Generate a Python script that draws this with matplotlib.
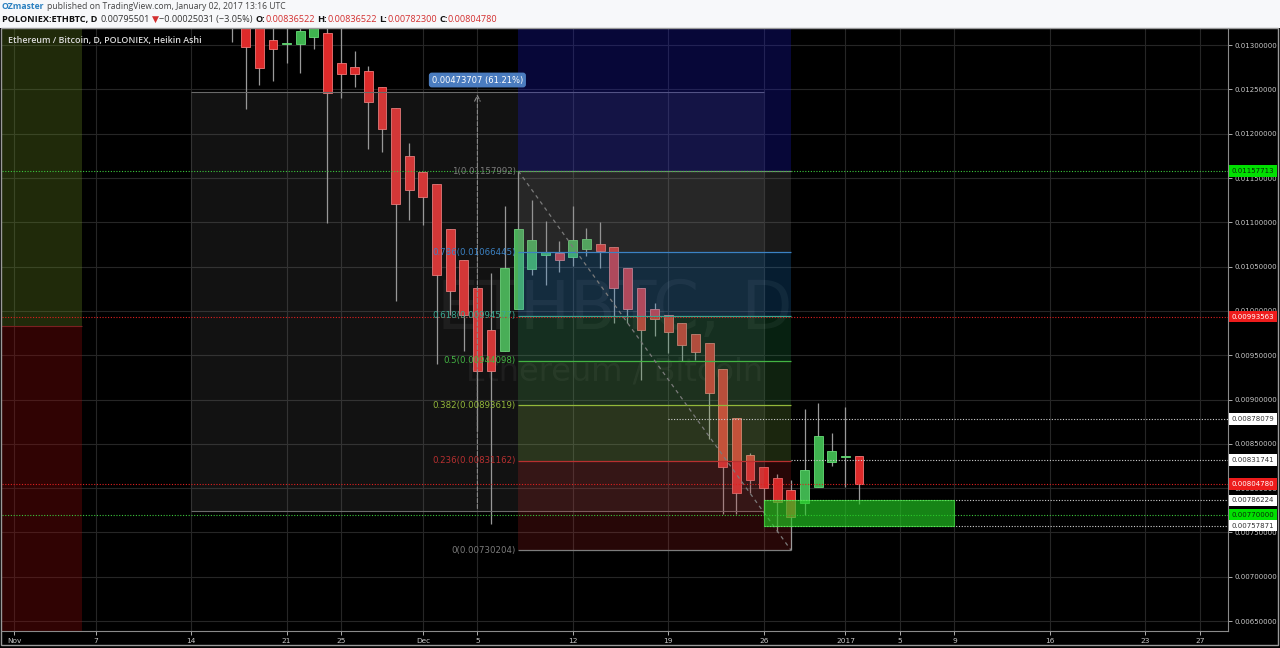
import numpy as np
import pandas as pd
import matplotlib
matplotlib.use("Agg")
import matplotlib.pyplot as plt
import matplotlib.dates as mdates
from matplotlib.patches import Rectangle

W, H = 1280, 648

# Heikin Ashi candles, POLONIEX:ETHBTC, daily
dates = pd.date_range("2016-11-17", "2017-01-02", freq="D")
opens = [0.01345, 0.01340, 0.01325, 0.01306, 0.01301, 0.01301, 0.01309, 0.01314, 0.01280, 0.01275,
         0.01271, 0.01253, 0.01229, 0.01175, 0.01157, 0.01143, 0.01093, 0.01058, 0.01026, 0.00978,
         0.00955, 0.01002, 0.01047, 0.01063, 0.01065, 0.01061, 0.01070, 0.01076, 0.01072, 0.01049,
         0.01026, 0.01002, 0.00996, 0.00986, 0.00974, 0.00964, 0.00935, 0.00879, 0.00838, 0.00824,
         0.00812, 0.00798, 0.00783, 0.00801, 0.00830, 0.00835, 0.00836522]
highs = [0.01370, 0.01360, 0.01335, 0.01322, 0.01325, 0.01330, 0.01340, 0.01335, 0.01325, 0.01293,
         0.01277, 0.01253, 0.01229, 0.01190, 0.01157, 0.01143, 0.01093, 0.01058, 0.01026, 0.01043,
         0.01119, 0.01158, 0.01125, 0.01102, 0.01079, 0.01118, 0.01094, 0.01100, 0.01072, 0.01049,
         0.01026, 0.01009, 0.00996, 0.00986, 0.00974, 0.00964, 0.00935, 0.00879, 0.00840, 0.00824,
         0.00816, 0.00809, 0.00889, 0.00896, 0.00862, 0.00892, 0.00836522]
lows = [0.01304, 0.01228, 0.01255, 0.01260, 0.01280, 0.01269, 0.01296, 0.01099, 0.01240, 0.01253,
        0.01183, 0.01180, 0.01011, 0.01103, 0.01097, 0.00940, 0.00996, 0.00955, 0.00864, 0.00760,
        0.00955, 0.01002, 0.01041, 0.01029, 0.01044, 0.01051, 0.01062, 0.01049, 0.00986, 0.00986,
        0.00922, 0.00972, 0.00953, 0.00943, 0.00945, 0.00855, 0.00771, 0.00771, 0.00795, 0.00770,
        0.00751, 0.00730, 0.00770, 0.00801, 0.00825, 0.00801, 0.00782300]
closes = [0.01330, 0.01298, 0.01274, 0.01296, 0.01302, 0.01316, 0.01325, 0.01246, 0.01268, 0.01267,
          0.01236, 0.01205, 0.01121, 0.01136, 0.01129, 0.01041, 0.01023, 0.00995, 0.00932, 0.00932,
          0.01049, 0.01092, 0.01080, 0.01067, 0.01058, 0.01080, 0.01081, 0.01068, 0.01026, 0.01002,
          0.00979, 0.00991, 0.00976, 0.00962, 0.00954, 0.00907, 0.00824, 0.00795, 0.00809, 0.00800,
          0.00784, 0.00768, 0.00820, 0.00859, 0.00842, 0.00836, 0.00804780]

fib_ratios = [1, 0.786, 0.618, 0.5, 0.382, 0.236, 0]
fib_prices = [0.01157992, 0.01066445, 0.00994577, 0.00944098, 0.00893619, 0.00831162, 0.00730204]
fib_colors = ["#7c7c7c", "#3b82c4", "#3aa890", "#43b443", "#93b83a", "#b83030", "#7c7c7c"]
fib_fills = ["#808080", "#2196f3", "#26a65a", "#4caf50", "#8bc34a", "#c62828"]

price_ticks = [0.0065, 0.0070, 0.0075, 0.0080, 0.0085, 0.0090, 0.0095, 0.0100,
               0.0105, 0.0110, 0.0115, 0.0120, 0.0125, 0.0130]
tick_dates = ["2016-11-01", "2016-11-07", "2016-11-14", "2016-11-21", "2016-11-25", "2016-12-01",
              "2016-12-05", "2016-12-12", "2016-12-19", "2016-12-26", "2017-01-01", "2017-01-05",
              "2017-01-09", "2017-01-16", "2017-01-23", "2017-01-27"]
tick_labels = ["Nov", "7", "14", "21", "25", "Dec", "5", "12", "19", "26", "2017", "5", "9", "16", "23", "27"]

# horizontal price lines and their right-axis badges
full_lines = [0.01157713, 0.00993563, 0.00804780, 0.00770000]
full_colors = ["#3cc83c", "#e02020", "#e02020", "#3cc83c"]
white_lines = [0.00878079, 0.00831741, 0.00786224, 0.00757871]
white_starts = ["2016-12-19", "2016-12-28", "2016-12-26", "2016-12-26"]
badge_prices = [0.01157713, 0.00993563, 0.00878079, 0.00831741, 0.00804780, 0.00786224, 0.00770000, 0.00757871]
badge_kinds = ["g", "r", "w", "w", "r", "w", "g", "w"]

measure_low, measure_high = 0.00773887, 0.01247594
box_low, box_high = 0.00757871, 0.00786224
split_price = 0.009831

d = lambda s: mdates.date2num(pd.Timestamp(s))
x = mdates.date2num(dates)
nov1 = d("2016-11-01")

fig = plt.figure(figsize=(W / 100, H / 100), dpi=100, facecolor="black")
ax = fig.add_axes([2 / W, 17 / H, 1226 / W, 603 / H])
ax.set_facecolor("black")
ax.set_xlim(nov1 - 0.88, nov1 + 89.07)
ax.set_ylim(0.006388, 0.013194)

ax.set_xticks([d(t) for t in tick_dates])
ax.set_xticklabels(tick_labels)
ax.set_yticks(price_ticks)
ax.set_yticklabels([f"{p:.8f}" for p in price_ticks])
ax.yaxis.tick_right()
ax.tick_params(axis="y", colors="#c8c8c8", labelsize=5.0, length=3, pad=2, width=0.6)
ax.tick_params(axis="x", colors="#c8c8c8", labelsize=5.3, length=3, pad=2, width=0.6)
ax.grid(color="#262626", lw=0.8)
ax.set_axisbelow(True)
for s in ["left", "top"]:
    ax.spines[s].set_visible(False)
for s in ["right", "bottom"]:
    ax.spines[s].set_color("#8a8a8a")
    ax.spines[s].set_linewidth(0.8)

# watermark
ax.text(0.5, 0.532, "ETHBTC, D", transform=ax.transAxes, fontsize=48, color="white",
        alpha=0.06, ha="center", va="center", zorder=1)
ax.text(0.5, 0.43, "Ethereum / Bitcoin", transform=ax.transAxes, fontsize=23, color="white",
        alpha=0.06, ha="center", va="center", zorder=1)

# left date-range box
ax.add_patch(Rectangle((d("2016-10-25"), split_price), 12, 0.0135 - split_price,
                       fc="#6b8e23", alpha=0.3, ec="none", zorder=3))
ax.add_patch(Rectangle((d("2016-10-25"), 0.006), 12, split_price - 0.006,
                       fc="#8b0a0a", alpha=0.35, ec="none", zorder=3))
ax.hlines(split_price, d("2016-10-25"), d("2016-11-06"), color="#7a2020", lw=0.8, zorder=3)

# candles
up = np.array(closes) >= np.array(opens)
ax.vlines(x, lows, highs, color="#9a9a9a", lw=0.9, zorder=2)
bottoms = np.minimum(opens, closes)
heights = np.maximum(np.abs(np.array(closes) - np.array(opens)), 0.000012)
ax.bar(x[~up], heights[~up], 0.65, bottoms[~up], color="#dd2a2a", edgecolor="#f07878", lw=0.6, zorder=2)
ax.bar(x[up], heights[up], 0.65, bottoms[up], color="#3fb34f", edgecolor="#66dd77", lw=0.6, zorder=2)

# price range measure
m0, m1 = d("2016-11-14"), d("2016-12-26")
ax.add_patch(Rectangle((m0, measure_low), m1 - m0, measure_high - measure_low,
                       fc="#909090", alpha=0.13, ec="none", zorder=3))
ax.hlines([measure_low, measure_high], m0, m1, color="#6a6a6a", lw=0.8, zorder=3)
ax.annotate("", xy=(d("2016-12-05"), measure_high), xytext=(d("2016-12-05"), measure_low),
            arrowprops=dict(arrowstyle="->", ls="--", color="#8a8a8a", lw=0.8), zorder=3)
ax.text(d("2016-12-05"), 0.012607, "0.00473707 (61.21%)", ha="center", va="center", fontsize=6,
        color="white", bbox=dict(boxstyle="round,pad=0.35", fc="#4a7cbf", ec="none"), zorder=6)

# fibonacci retracement
f0, f1 = d("2016-12-08"), d("2016-12-28")
ax.fill_between([f0, f1], fib_prices[0], 0.0135, color="#1a1acc", alpha=0.28, lw=0, zorder=3)
for i in range(len(fib_prices) - 1):
    ax.fill_between([f0, f1], fib_prices[i + 1], fib_prices[i], color=fib_fills[i],
                    alpha=0.2, lw=0, zorder=3)
ax.hlines(fib_prices, f0, f1, colors=fib_colors, lw=0.9, zorder=4)
for r, p, c in zip(fib_ratios, fib_prices, fib_colors):
    ax.annotate(f"{r:g}({p:.8f})", xy=(f0, p), xytext=(-2, 0), textcoords="offset points",
                ha="right", va="center", fontsize=6.2, color=c, zorder=6)
ax.plot([f0, f1], [fib_prices[0], fib_prices[-1]], ls=(0, (3, 3)), color="#7a7a7a", lw=0.9, zorder=4)

# horizontal lines
for p, c in zip(full_lines, full_colors):
    ax.axhline(p, color=c, ls=(0, (1, 1.5)), lw=0.8, zorder=4)
xmax = ax.get_xlim()[1]
for p, s in zip(white_lines, white_starts):
    ax.hlines(p, d(s), xmax, color="#d0d0d0", ls=(0, (1, 1.5)), lw=0.8, zorder=4)

# green zone
ax.add_patch(Rectangle((d("2016-12-26"), box_low), 14, box_high - box_low,
                       fc="#22cc22", alpha=0.65, ec="#44ee44", lw=0.8, zorder=5))

# right axis badges
badge_style = {"g": ("#00e000", "#0a2a0a"), "r": ("#ee1c1c", "white"), "w": ("white", "#333333")}
for p, k in zip(badge_prices, badge_kinds):
    bg, tc = badge_style[k]
    ax.text(1.0028, p, f"{p:.8f}", transform=ax.get_yaxis_transform(), fontsize=5.0, color=tc,
            ha="left", va="center", clip_on=False, zorder=10,
            bbox=dict(boxstyle="square,pad=0.4", fc=bg, ec="none"))

# header
fig.patches.append(Rectangle((0, 620 / H), 1, 28 / H, transform=fig.transFigure,
                             fc="#f7f8fa", ec="none"))
fig.patches.append(Rectangle((1 / W, 3 / H), 1277 / W, 617 / H, transform=fig.transFigure,
                             fill=False, ec="#9a9a9a", lw=1))

fam = ["Open Sans", "DejaVu Sans"]
renderer = fig.canvas.get_renderer()


def put_line(parts, x0, y, width):
    texts = []
    for s, c, w in parts:
        texts.append(fig.text(0, 1 - y / H, s.strip(), color=c, fontweight=w, fontsize=10,
                              family=fam, va="center", ha="left"))
    space = 0.3 * 10 * 100 / 72
    total = sum(t.get_window_extent(renderer).width for t in texts)
    total += sum(space for s, c, w in parts[1:] if s.startswith(" "))
    k = width / total
    xx = x0
    for t, (s, c, w) in zip(texts, parts):
        t.set_fontsize(10 * k)
        if s.startswith(" ") and t is not texts[0]:
            xx += space * k
        t.set_x(xx / W)
        xx += t.get_window_extent(renderer).width


red = "#d32f2f"
put_line([("OZmaster", "#2a80c0", "bold"),
          (" published on TradingView.com, January 02, 2017 13:16 UTC", "#444444", "normal")], 2, 6.5, 285)
put_line([("POLONIEX:ETHBTC, D", "#111111", "bold"),
          (" 0.00795501", "#333333", "normal"), (" \u25bc", red, "normal"),
          ("\u22120.00025031 (\u22123.05%)", "#333333", "normal"),
          (" O:", "#111111", "bold"), ("0.00836522", red, "normal"),
          (" H:", "#111111", "bold"), ("0.00836522", red, "normal"),
          (" L:", "#111111", "bold"), ("0.00782300", red, "normal"),
          (" C:", "#111111", "bold"), ("0.00804780", red, "normal")], 2, 19.5, 498)
put_line([("Ethereum / Bitcoin, D, POLONIEX, Heikin Ashi", "#dcdcdc", "semibold")], 8, 41, 192)

fig.savefig("out.png", dpi=100, facecolor="black")
